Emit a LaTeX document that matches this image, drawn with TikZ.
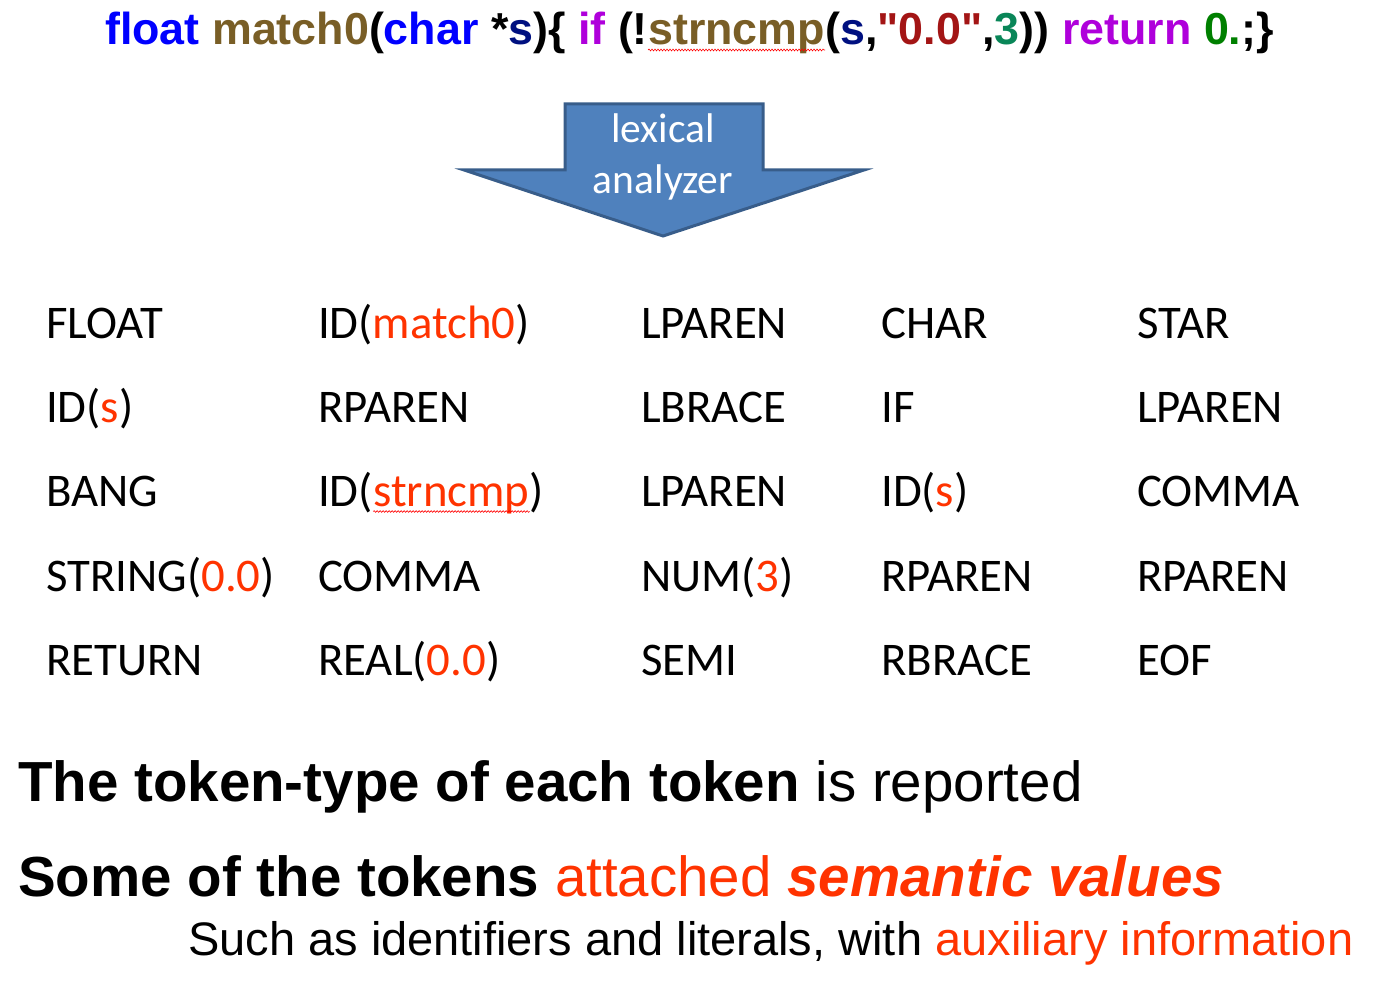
\documentclass[tikz,border=0pt]{standalone}
\usepackage{fontspec}
\usepackage{xcolor}
\usepackage{tikz}
\usetikzlibrary{positioning,decorations.pathmorphing}

\newfontfamily\carlito{Carlito}
\newfontfamily\arialfont{Liberation Sans}

\definecolor{kwblue}{HTML}{0000FF}
\definecolor{fnbrown}{HTML}{795E26}
\definecolor{varnavy}{HTML}{001080}
\definecolor{ctrlpurple}{HTML}{AF00DB}
\definecolor{strred}{HTML}{A31515}
\definecolor{numteal}{HTML}{098658}
\definecolor{litgreen}{HTML}{008000}
\definecolor{valred}{HTML}{FF3300}
\definecolor{arrowfill}{HTML}{4F81BD}
\definecolor{arrowline}{HTML}{385D8A}

\newcommand{\val}[1]{\textcolor{valred}{#1}}

\tikzset{%
	code/.style      = {anchor=base west, inner sep=0pt, font=\arialfont\bfseries\fontsize{44.8}{50}\selectfont},
	token/.style     = {anchor=base west, inner sep=0pt, font=\carlito\fontsize{46.8}{50}\selectfont},
	arrowtext/.style = {anchor=base, inner sep=0pt, text=white, font=\carlito\fontsize{41.5}{50}\selectfont},
	lexarrow/.style  = {fill=arrowfill, draw=arrowline, line width=3pt, miter limit=20},
	note/.style      = {anchor=base west, inner sep=0pt, font=\arialfont\fontsize{56.5}{60}\selectfont},
	subnote/.style   = {anchor=base west, inner sep=0pt, font=\arialfont\fontsize{47}{52}\selectfont},
	squiggle/.style  = {draw=red, line width=0.6pt, decorate, decoration={snake, amplitude=0.9pt, segment length=3pt}},
}

\begin{document}
\begin{tikzpicture}[x=1pt,y=-1pt]
	\useasboundingbox (0,0) rectangle (1386,992);
	% source line
	\node [code] (src) at (105,45) {\textcolor{kwblue}{float} \textcolor{fnbrown}{match0}(\textcolor{kwblue}{char} *\textcolor{varnavy}{s})\{ \textcolor{ctrlpurple}{if} (!};
	\node [code, text=fnbrown] (srcfn) at (src.base east) {strncmp};
	\node [code] (srcend) at (srcfn.base east) {(\textcolor{varnavy}{s},\textcolor{strred}{"0.0"},\textcolor{numteal}{3})) \textcolor{ctrlpurple}{return} \textcolor{litgreen}{0.};\}};
	\draw [squiggle] ([yshift=-5pt]srcfn.base west) -- ([yshift=-5pt]srcfn.base east);
	
	% lexical analyzer arrow
	\filldraw [lexarrow] (565,104) -- (763,104) -- (763,170) -- (864,170) -- (663,236) -- (464,170) -- (565,170) -- cycle;
	\node [arrowtext] (lex) at (663,143) {lexical};
	\node [arrowtext] (ana) at (663,194) {analyzer};
	
	% token stream
	\node [token] (t11) at (46,338) {FLOAT};
	\node [token] (t12) at (318,338) {ID(\val{match0})};
	\node [token] (t13) at (641,338) {LPAREN};
	\node [token] (t14) at (881,338) {CHAR};
	\node [token] (t15) at (1137,338) {STAR};
	
	\node [token] (t21) at (46,422) {ID(\val{s})};
	\node [token] (t22) at (318,422) {RPAREN};
	\node [token] (t23) at (641,422) {LBRACE};
	\node [token] (t24) at (881,422) {IF};
	\node [token] (t25) at (1137,422) {LPAREN};
	
	\node [token] (t31) at (46,506.5) {BANG};
	\node [token] (t32) at (318,506.5) {ID(};
	\node [token, text=valred] (t32v) at (t32.base east) {strncmp};
	\node [token] (t32e) at (t32v.base east) {)};
	\draw [squiggle] ([yshift=-5pt]t32v.base west) -- ([yshift=-5pt]t32v.base east);
	\node [token] (t33) at (641,506.5) {LPAREN};
	\node [token] (t34) at (881,506.5) {ID(\val{s})};
	\node [token] (t35) at (1137,506.5) {COMMA};
	
	\node [token] (t41) at (46,591) {STRING(\val{0.0})};
	\node [token] (t42) at (318,591) {COMMA};
	\node [token] (t43) at (641,591) {NUM(\val{3})};
	\node [token] (t44) at (881,591) {RPAREN};
	\node [token] (t45) at (1137,591) {RPAREN};
	
	\node [token] (t51) at (46,675.5) {RETURN};
	\node [token] (t52) at (318,675.5) {REAL(\val{0.0})};
	\node [token] (t53) at (641,675.5) {SEMI};
	\node [token] (t54) at (881,675.5) {RBRACE};
	\node [token] (t55) at (1137,675.5) {EOF};
	
	% remarks
	\node [note] (note1) at (18,801) {\textbf{The token-type of each token} is reported};
	\node [note] (note2) at (18,896) {\textbf{Some of the tokens} \val{attached \textbf{\textit{semantic values}}}};
	\node [subnote] (note3) at (188,955) {Such as identifiers and literals, with \val{auxiliary information}};
\end{tikzpicture}
\end{document}
